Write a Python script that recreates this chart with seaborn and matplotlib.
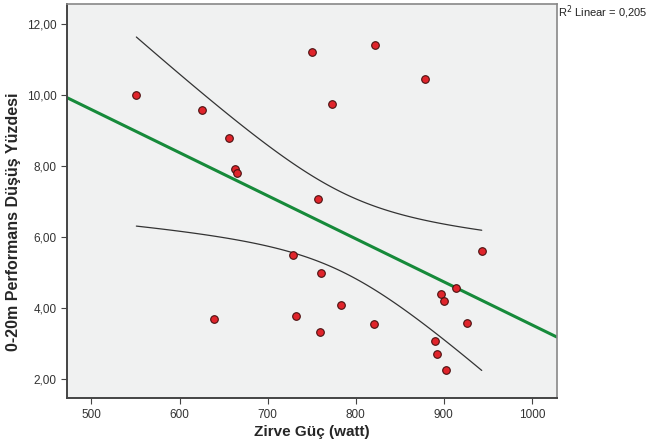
import numpy as np
import pandas as pd
import seaborn as sns
from matplotlib import pyplot as plt
from matplotlib.ticker import FuncFormatter

# Zirve güç (watt) ve 0-20m performans düşüş yüzdesi
zirve_guc = [551, 625, 656, 663, 665, 750, 822, 773, 879, 757,
             729, 761, 639, 732, 760, 783, 821, 943, 914, 897,
             900, 926, 890, 892, 902]
dusus_yuzde = [10.00, 9.59, 8.80, 7.92, 7.80, 11.22, 11.41, 9.75, 10.47, 7.08,
               5.50, 5.00, 3.70, 3.78, 3.32, 4.08, 3.56, 5.60, 4.58, 4.39,
               4.20, 3.58, 3.08, 2.72, 2.26]
x_ticks = [500, 600, 700, 800, 900, 1000]
y_ticks = [2, 4, 6, 8, 10, 12]
r2_text = "R$^2$ Linear = 0,205"

df = pd.DataFrame({'guc': zirve_guc, 'dusus': dusus_yuzde})

sns.set_style('white')
plt.rcParams['font.family'] = ['Liberation Sans', 'DejaVu Sans']

fig = plt.figure(figsize=(6.48, 4.47), dpi=100)
ax = fig.add_axes([0.103, 0.109, 0.756, 0.881])
ax.set_facecolor('#f0f1f1')

# 95% guven araligi (ortalama icin) - analitik
x = df['guc'].values
y = df['dusus'].values
n = len(x)
b, a = np.polyfit(x, y, 1)
resid = y - (a + b * x)
s = np.sqrt(np.sum(resid ** 2) / (n - 2))
t_val = 2.069  # t(0.975, 23)
xs = np.linspace(x.min(), x.max(), 100)
se = s * np.sqrt(1 / n + (xs - x.mean()) ** 2 / np.sum((x - x.mean()) ** 2))
ci = pd.DataFrame({'x': xs, 'lo': a + b * xs - t_val * se, 'hi': a + b * xs + t_val * se})
sns.lineplot(data=ci, x='x', y='hi', ax=ax, color='#333333', lw=0.9)
sns.lineplot(data=ci, x='x', y='lo', ax=ax, color='#333333', lw=0.9)

ax.set_xlim(472, 1028)
ax.set_ylim(1.46, 12.56)

sns.regplot(data=df, x='guc', y='dusus', ax=ax, ci=None, truncate=False,
            scatter_kws=dict(s=30, color='#e0242b', edgecolor='#4a1010', linewidths=0.8, alpha=1, zorder=3),
            line_kws=dict(color='#168a3a', lw=2.2, zorder=2))

ax.set_xlim(472, 1028)
ax.set_ylim(1.46, 12.56)
ax.set_xticks(x_ticks)
ax.set_yticks(y_ticks)
ax.yaxis.set_major_formatter(FuncFormatter(lambda v, p: f'{v:.2f}'.replace('.', ',')))
ax.tick_params(axis='both', which='both', direction='out', length=4, width=0.8,
               color='#444444', labelsize=8.5, labelcolor='#333333', bottom=True, left=True)

for side in ['left', 'bottom']:
    ax.spines[side].set_color('#444444')
    ax.spines[side].set_linewidth(1.4)
for side in ['top', 'right']:
    ax.spines[side].set_color('#888888')
    ax.spines[side].set_linewidth(1.2)

ax.set_xlabel('Zirve Güç (watt)', fontsize=11, fontweight='bold', labelpad=3)
ax.set_ylabel('0-20m Performans Düşüş Yüzdesi', fontsize=11.5, fontweight='bold')
ax.yaxis.set_label_coords(-0.093, 0.447)
fig.text(0.861, 0.972, r2_text, fontsize=8, color='#222222', ha='left', va='center')

fig.savefig('out.png', dpi=100)
